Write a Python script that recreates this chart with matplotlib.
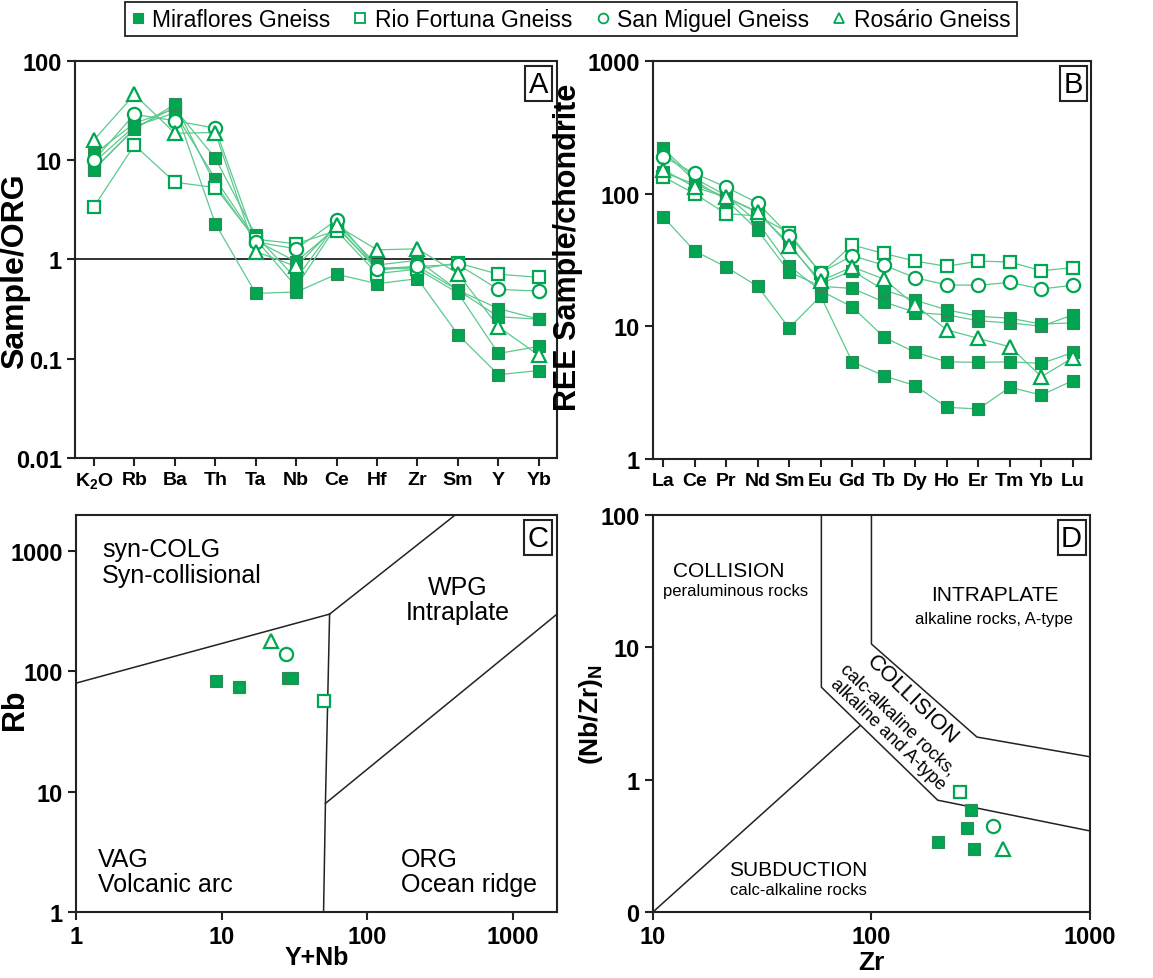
import matplotlib.pyplot as plt
from matplotlib.lines import Line2D
from matplotlib.ticker import NullLocator, FixedLocator, FixedFormatter

plt.rcParams['font.family'] = ['Liberation Sans', 'DejaVu Sans']
plt.rcParams['mathtext.fontset'] = 'custom'
plt.rcParams['mathtext.rm'] = 'Liberation Sans'
plt.rcParams['mathtext.bf'] = 'Liberation Sans:bold'

GREEN = '#00a651'
LINE = '#5cc98e'
EDGE = '#2f8a57'

# A: ORG-normalised spider diagram
org_elems = ['K$_\\mathbf{2}$O', 'Rb', 'Ba', 'Th', 'Ta', 'Nb', 'Ce', 'Hf', 'Zr', 'Sm', 'Y', 'Yb']
org_miraflores = [
    [8.0, 21, 34, 2.3, 0.455, 0.47, 0.71, 0.57, 0.64, 0.175, 0.069, 0.076],
    [11.5, 23.5, 33, 10.5, 1.75, 0.64, 2.3, 0.88, 0.98, 0.49, 0.32, 0.25],
    [9.5, 22, 30, 6.5, 1.6, 0.53, 2.2, 0.78, 0.85, 0.49, 0.265, 0.25],
    [8.2, 20.5, 36.6, 5.7, 1.55, 0.95, 2.1, 0.82, 0.8, 0.46, 0.113, 0.133],
]
org_rio_fortuna = [[3.4, 14.2, 6.0, 5.3, 1.6, 1.44, 1.95, 0.72, 0.8, 0.92, 0.71, 0.66]]
org_san_miguel = [[10, 29, 25, 21, 1.5, 1.28, 2.5, 0.81, 0.85, 0.89, 0.50, 0.48]]
org_rosario = [[16, 46, 18.7, 19, 1.2, 0.85, 2.2, 1.25, 1.28, 0.72, 0.21, 0.108]]

# B: chondrite-normalised REE
ree_elems = ['La', 'Ce', 'Pr', 'Nd', 'Sm', 'Eu', 'Gd', 'Tb', 'Dy', 'Ho', 'Er', 'Tm', 'Yb', 'Lu']
ree_miraflores = [
    [67, 37, 28, 20, 9.7, 16.9, 5.4, 4.24, 3.56, 2.45, 2.38, 3.47, 3.03, 3.9],
    [220, 130, 97, 61, 28.6, 18.5, 14, 8.3, 6.35, 5.4, 5.35, 5.4, 5.25, 6.35],
    [210, 125, 90, 53, 25.7, 20, 19.3, 15.3, 12.7, 12.2, 11.0, 10.6, 10.0, 12.2],
    [145, 118, 94, 72, 42, 21, 26.2, 18.8, 15.7, 13.3, 11.9, 11.5, 10.4, 10.6],
]
ree_rio_fortuna = [[134, 100, 70.5, 68, 50.6, 25, 41, 35.4, 31, 28.3, 31, 30.5, 26.2, 27.7]]
ree_san_miguel = [[190, 142, 112, 85, 48.3, 25.4, 34, 28.9, 23.2, 20.5, 20.4, 21.4, 19.1, 20.4]]
ree_rosario = [[152, 112, 94, 73, 40.6, 22, 28, 22.7, 14.4, 9.4, 8.1, 7.0, 4.17, 5.8]]

# C: Rb vs Y+Nb
ynb_miraflores = [9.1, 13.1, 28.5, 30.4]
rb_miraflores = [84, 75, 89, 89]
ynb_rio_fortuna, rb_rio_fortuna = [50.5], [57]
ynb_san_miguel, rb_san_miguel = [27.6], [141]
ynb_rosario, rb_rosario = [21.8], [178]

# D: (Nb/Zr)N vs Zr
zr_miraflores = [285, 274, 201, 294]
nbzr_miraflores = [0.59, 0.43, 0.34, 0.30]
zr_rio_fortuna, nbzr_rio_fortuna = [254], [0.81]
zr_san_miguel, nbzr_san_miguel = [360], [0.45]
zr_rosario, nbzr_rosario = [400], [0.30]

groups = ['Miraflores Gneiss', 'Rio Fortuna Gneiss', 'San Miguel Gneiss', 'Rosário Gneiss']
styles = [
    dict(marker='s', mfc=GREEN, mec=EDGE, mew=0.8, ms=9),
    dict(marker='s', mfc='white', mec=GREEN, mew=1.6, ms=9),
    dict(marker='o', mfc='white', mec=GREEN, mew=1.6, ms=9.5),
    dict(marker='^', mfc='white', mec=GREEN, mew=1.6, ms=9.5),
]

fig = plt.figure(figsize=(11.53, 9.79), dpi=100)
axA = fig.add_axes([0.0650, 0.5312, 0.4181, 0.4055])
axB = fig.add_axes([0.5663, 0.5302, 0.3799, 0.4065])
axC = fig.add_axes([0.0659, 0.0674, 0.4172, 0.4055])
axD = fig.add_axes([0.5663, 0.0674, 0.3790, 0.4055])


def frame(ax, letter):
    for s in ax.spines.values():
        s.set_linewidth(1.5)
        s.set_color('#222222')
    ax.xaxis.set_minor_locator(NullLocator())
    ax.yaxis.set_minor_locator(NullLocator())
    ax.tick_params(width=1.5, length=6, color='#222222')
    ax.tick_params(axis='y', labelsize=17)
    ax.tick_params(axis='x', labelsize=17)
    for lab in ax.get_xticklabels() + ax.get_yticklabels():
        lab.set_fontweight('bold')
    ax.text(0.982, 0.978, letter, transform=ax.transAxes, ha='right', va='top',
            fontsize=21, bbox=dict(boxstyle='square,pad=0.12', fc='white', ec='#222222', lw=1.5))


def spider(ax, sets):
    for rows, st in zip(sets, styles):
        for row in rows:
            ax.plot(range(len(row)), row, color=LINE, lw=0.9, zorder=2)
    for rows, st in zip(sets, styles):
        for row in rows:
            ax.plot(range(len(row)), row, ls='none', zorder=3, **st)


# A
spider(axA, [org_miraflores, org_rio_fortuna, org_san_miguel, org_rosario])
axA.axhline(1, color='#222222', lw=1.3, zorder=1)
axA.set_yscale('log')
axA.set_ylim(0.01, 100)
axA.set_xlim(-0.47, 11.45)
axA.yaxis.set_major_locator(FixedLocator([0.01, 0.1, 1, 10, 100]))
axA.yaxis.set_major_formatter(FixedFormatter(['0.01', '0.1', '1', '10', '100']))
axA.set_xticks(range(len(org_elems)))
axA.set_xticklabels(org_elems)
axA.set_ylabel('Sample/ORG', fontsize=23, fontweight='bold')
axA.yaxis.set_label_coords(-0.094, 0.474)
frame(axA, 'A')
axA.tick_params(axis='x', labelsize=14)

# B
spider(axB, [ree_miraflores, ree_rio_fortuna, ree_san_miguel, ree_rosario])
axB.set_yscale('log')
axB.set_ylim(1, 1000)
axB.set_xlim(-0.32, 13.57)
axB.yaxis.set_major_locator(FixedLocator([1, 10, 100, 1000]))
axB.yaxis.set_major_formatter(FixedFormatter(['1', '10', '100', '1000']))
axB.set_xticks(range(len(ree_elems)))
axB.set_xticklabels(ree_elems)
axB.set_ylabel('REE Sample/chondrite', fontsize=22, fontweight='bold')
axB.yaxis.set_label_coords(-0.160, 0.534)
frame(axB, 'B')
axB.tick_params(axis='x', labelsize=14)

# C: Pearce et al. field boundaries
axC.plot([1, 55], [80, 300], color='#222222', lw=1.1)
axC.plot([55, 400], [300, 2000], color='#222222', lw=1.1)
axC.plot([55, 51.5, 50], [300, 8, 1], color='#222222', lw=1.1)
axC.plot([51.5, 2000], [8, 300], color='#222222', lw=1.1)
for xs, ys, st in zip([ynb_miraflores, ynb_rio_fortuna, ynb_san_miguel, ynb_rosario],
                      [rb_miraflores, rb_rio_fortuna, rb_san_miguel, rb_rosario], styles):
    axC.plot(xs, ys, ls='none', zorder=3, **st)
axC.set_xscale('log')
axC.set_yscale('log')
axC.set_xlim(1, 2000)
axC.set_ylim(1, 2000)
axC.xaxis.set_major_locator(FixedLocator([1, 10, 100, 1000]))
axC.xaxis.set_major_formatter(FixedFormatter(['1', '10', '100', '1000']))
axC.yaxis.set_major_locator(FixedLocator([1, 10, 100, 1000]))
axC.yaxis.set_major_formatter(FixedFormatter(['1', '10', '100', '1000']))
axC.set_xlabel('Y+Nb', fontsize=18, fontweight='bold', labelpad=-2)
axC.set_ylabel('Rb', fontsize=22, fontweight='bold')
axC.yaxis.set_label_coords(-0.096, 0.511)
frame(axC, 'C')
kw = dict(transform=axC.transAxes, fontsize=18, va='top', linespacing=1.1)
axC.text(0.054, 0.945, 'syn-COLG\nSyn-collisional', ha='left', **kw)
axC.text(0.794, 0.85, 'WPG\nIntraplate', ha='center', **kw)
axC.text(0.046, 0.165, 'VAG\nVolcanic arc', ha='left', **kw)
axC.text(0.676, 0.165, 'ORG\nOcean ridge', ha='left', **kw)

# D: Thiéblemont & Tegyey field boundaries
axD.plot([59, 59, 201, 1000], [100, 5.0, 0.70, 0.41], color='#222222', lw=1.1)
axD.plot([100, 100, 304, 1000], [100, 10.6, 2.1, 1.49], color='#222222', lw=1.1)
axD.plot([10, 88.5], [0.1, 2.55], color='#222222', lw=1.1)
for xs, ys, st in zip([zr_miraflores, zr_rio_fortuna, zr_san_miguel, zr_rosario],
                      [nbzr_miraflores, nbzr_rio_fortuna, nbzr_san_miguel, nbzr_rosario], styles):
    axD.plot(xs, ys, ls='none', zorder=3, **st)
axD.set_xscale('log')
axD.set_yscale('log')
axD.set_xlim(10, 1000)
axD.set_ylim(0.1, 100)
axD.xaxis.set_major_locator(FixedLocator([10, 100, 1000]))
axD.xaxis.set_major_formatter(FixedFormatter(['10', '100', '1000']))
axD.yaxis.set_major_locator(FixedLocator([0.1, 1, 10, 100]))
axD.yaxis.set_major_formatter(FixedFormatter(['0', '1', '10', '100']))
axD.set_xlabel('Zr', fontsize=19, fontweight='bold', labelpad=1)
axD.set_ylabel('(Nb/Zr)$_\\mathbf{N}$', fontsize=19, fontweight='bold')
axD.yaxis.set_label_coords(-0.110, 0.499)
frame(axD, 'D')
kd = dict(transform=axD.transAxes, ha='center', va='top')
axD.text(0.174, 0.885, 'COLLISION', fontsize=15, **kd)
axD.text(0.188, 0.829, 'peraluminous rocks', fontsize=12, **kd)
axD.text(0.783, 0.824, 'INTRAPLATE', fontsize=15, **kd)
axD.text(0.780, 0.758, 'alkaline rocks, A-type', fontsize=12, **kd)
axD.text(0.332, 0.13, 'SUBDUCTION', fontsize=15, **kd)
axD.text(0.334, 0.076, 'calc-alkaline rocks', fontsize=12, **kd)
kr = dict(transform=axD.transAxes, ha='center', va='center', rotation=-44, rotation_mode='anchor')
axD.text(0.593, 0.537, 'COLLISION', fontsize=16, **kr)
axD.text(0.561, 0.486, 'calc-alkaline rocks,', fontsize=13, **kr)
axD.text(0.538, 0.449, 'alkaline and A-type', fontsize=13, **kr)

# shared legend along the top
handles = [Line2D([], [], ls='none', **dict(st, ms=7, mew=1.3 if i else 0.8)) for i, st in enumerate(styles)]
leg = fig.legend(handles, groups, loc='upper center', bbox_to_anchor=(0.495, 0.997), ncol=4,
                 fontsize=16.5, frameon=True, fancybox=False, edgecolor='#222222', framealpha=1,
                 handlelength=0.6, handletextpad=0.35, columnspacing=1.0, borderpad=0.25,
                 borderaxespad=0)
leg.get_frame().set_linewidth(1.3)

fig.savefig('out.png', dpi=100)
